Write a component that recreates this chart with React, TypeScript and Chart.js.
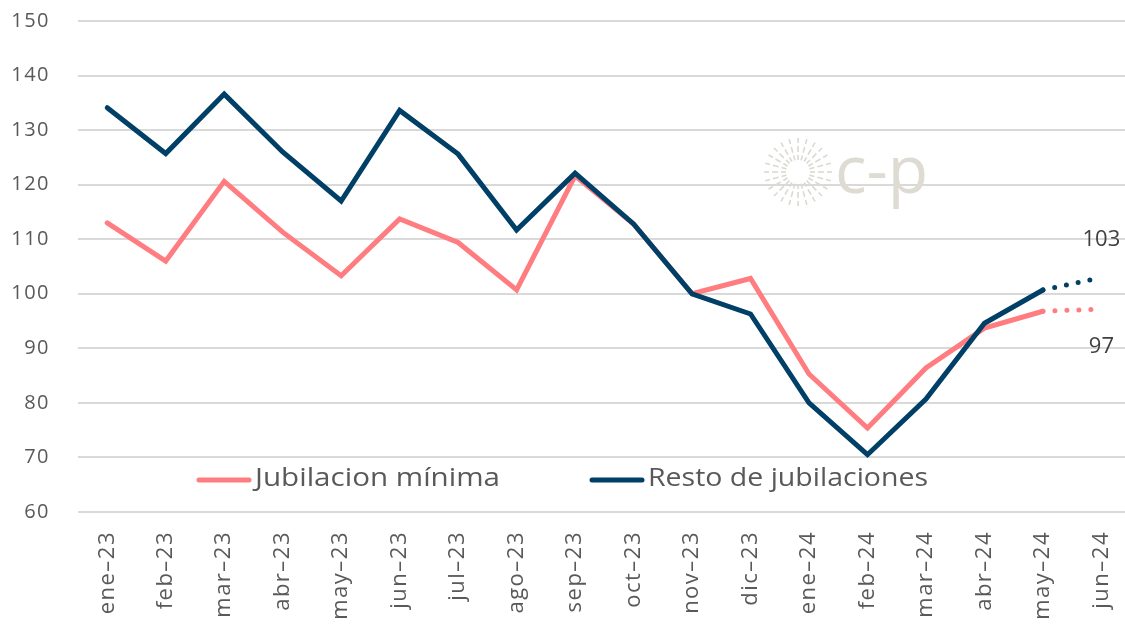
import React, { useEffect, useRef } from "react";
import { Chart, registerables } from "chart.js";

Chart.register(...registerables);

const categories = [
  "ene–23", "feb–23", "mar–23", "abr–23", "may–23", "jun–23", "jul–23", "ago–23", "sep–23",
  "oct–23", "nov–23", "dic–23", "ene–24", "feb–24", "mar–24", "abr–24", "may–24", "jun–24",
];
const jubilacionMinima = [
  113.0, 106.0, 120.6, 111.3, 103.3, 113.7, 109.4, 100.7, 121.6,
  112.8, 100.0, 102.8, 85.3, 75.4, 86.4, 93.7, 96.8, 97.2,
];
const restoJubilaciones = [
  134.1, 125.7, 136.6, 126.0, 117.0, 133.6, 125.6, 111.7, 122.1,
  112.8, 100.0, 96.3, 80.0, 70.5, 80.7, 94.6, 100.7, 103.0,
];
const seriesNames = ["Jubilacion mínima", "Resto de jubilaciones"];
const endLabels = ["97", "103"];
const yMin = 60;
const yMax = 150;
const yStep = 10;

const PINK = "#FF7C80";
const NAVY = "#003F66";
const TEXT = "#595959";
const FONT = "'Open Sans', sans-serif";

const lastIdx = categories.length - 1;

const decorPlugin = {
  id: "decor",
  beforeDraw(chart: any) {
    chart.ctx.letterSpacing = "1.5px";
  },
  beforeDatasetsDraw(chart: any) {
    const { ctx, chartArea } = chart;
    ctx.save();
    ctx.letterSpacing = "0px";
    // watermark sun
    const cx = chartArea.left + 720;
    const cy = chartArea.top + 151;
    ctx.strokeStyle = "#dcd9d1";
    ctx.lineWidth = 1.6;
    const segs = [
      [12, 17],
      [20, 26],
      [29, 34],
    ];
    for (let i = 0; i < 24; i++) {
      const a = (i * Math.PI * 2) / 24;
      for (const [r0, r1] of segs) {
        ctx.beginPath();
        ctx.moveTo(cx + Math.cos(a) * r0, cy + Math.sin(a) * r0);
        ctx.lineTo(cx + Math.cos(a) * r1, cy + Math.sin(a) * r1);
        ctx.stroke();
      }
    }
    ctx.fillStyle = "#dedbd3";
    ctx.font = `66px ${FONT}`;
    ctx.textAlign = "left";
    ctx.textBaseline = "alphabetic";
    ctx.fillText("c-p", cx + 37, cy + 21);
    ctx.restore();
  },
  afterDatasetsDraw(chart: any) {
    const { ctx, chartArea, scales } = chart;
    ctx.save();
    ctx.letterSpacing = "0px";
    // end labels
    ctx.fillStyle = "#404040";
    ctx.font = `22px ${FONT}`;
    ctx.textAlign = "center";
    ctx.textBaseline = "middle";
    const xEnd = scales.x.getPixelForValue(lastIdx);
    ctx.fillText(endLabels[1], xEnd, scales.y.getPixelForValue(restoJubilaciones[lastIdx]) - 38);
    ctx.fillText(endLabels[0], xEnd, scales.y.getPixelForValue(jubilacionMinima[lastIdx]) + 38);

    // legend inside chart area
    const ly = chartArea.bottom - 32;
    const items = [
      { x: chartArea.left + 119, color: PINK, text: seriesNames[0], w: 245 },
      { x: chartArea.left + 512, color: NAVY, text: seriesNames[1], w: 280 },
    ];
    ctx.font = `26px ${FONT}`;
    ctx.textAlign = "left";
    ctx.textBaseline = "middle";
    for (const it of items) {
      ctx.strokeStyle = it.color;
      ctx.lineWidth = 5;
      ctx.lineCap = "round";
      ctx.beginPath();
      ctx.moveTo(it.x + 2, ly);
      ctx.lineTo(it.x + 52, ly);
      ctx.stroke();
      ctx.fillStyle = TEXT;
      const mw = ctx.measureText(it.text).width;
      ctx.save();
      ctx.translate(it.x + 58, ly - 1);
      ctx.scale(it.w / mw, 1);
      ctx.fillText(it.text, 0, 0);
      ctx.restore();
    }
    ctx.restore();
  },
  afterDraw(chart: any) {
    chart.ctx.letterSpacing = "0px";
  },
};

export default function App() {
  const ref = useRef<HTMLCanvasElement>(null);
  useEffect(() => {
    document.body.style.margin = "0";
    const dotted = (c: any) => (c.p1DataIndex === lastIdx ? [0, 12] : undefined);
    const chart = new Chart(ref.current!, {
      type: "line",
      data: {
        labels: categories,
        datasets: [
          {
            label: seriesNames[1],
            data: restoJubilaciones,
            borderColor: NAVY,
            backgroundColor: NAVY,
            borderWidth: 5,
            borderCapStyle: "round",
            borderJoinStyle: "miter",
            pointRadius: 0,
            tension: 0,
            order: 0,
            segment: { borderDash: dotted },
          },
          {
            label: seriesNames[0],
            data: jubilacionMinima,
            borderColor: PINK,
            backgroundColor: PINK,
            borderWidth: 5,
            borderCapStyle: "round",
            borderJoinStyle: "miter",
            pointRadius: 0,
            tension: 0,
            order: 1,
            segment: { borderDash: dotted },
          },
        ],
      },
      options: {
        responsive: false,
        animation: false,
        layout: { padding: { top: 21, right: 7, left: 0, bottom: 0 } },
        plugins: {
          legend: { display: false },
          tooltip: { enabled: false },
        },
        scales: {
          x: {
            offset: true,
            grid: { display: false, drawTicks: false },
            border: { display: false },
            ticks: {
              maxRotation: 90,
              minRotation: 90,
              padding: 19,
              color: TEXT,
              font: { family: FONT, size: 22 },
            },
            afterFit: (s: any) => {
              s.height = 112;
            },
          },
          y: {
            min: yMin,
            max: yMax,
            ticks: {
              stepSize: yStep,
              padding: 0,
              color: TEXT,
              font: { family: FONT, size: 20 },
            },
            grid: {
              color: "#d9d9d9",
              lineWidth: 2,
              drawTicks: true,
              tickLength: 28,
              tickColor: "rgba(0,0,0,0)",
            },
            border: { display: false },
            afterFit: (s: any) => {
              s.width = 78;
            },
          },
        },
      },
      plugins: [decorPlugin],
    });
    return () => chart.destroy();
  }, []);
  return (
    <div
      style={{
        position: "absolute",
        left: 0,
        top: 0,
        width: 1125,
        height: 624,
        overflow: "hidden",
        background: "#fff",
      }}
    >
      <canvas ref={ref} width={1147} height={624} style={{ display: "block" }} />
    </div>
  );
}
